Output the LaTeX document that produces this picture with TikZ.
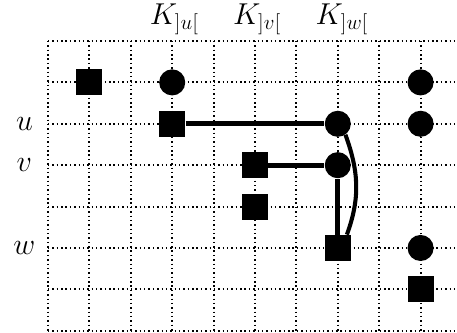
\documentclass[tikz,border=0pt]{standalone}
\usetikzlibrary{arrows}
\begin{document}
\begin{tikzpicture} [grid/.style={dash pattern=on 1pt off 2pt, line width=1.4pt},
 			      sq/.style={fill, minimum size=0.63cm, inner sep=0pt},
 			      dot/.style={circle, fill, minimum size=0.63cm, inner sep=0pt},
 			      link/.style={line width=3.5pt},
 			      lbl/.style={font=\fontsize{21}{25}\selectfont}]
    \useasboundingbox (-1.16,0.99) rectangle (9.88,-7.05);
    \clip (-1.16,0.99) rectangle (9.88,-7.05);
    \foreach \y in {0,...,7}
        \draw[grid] (0,-\y) -- (10,-\y);
    \foreach \x in {0,...,9}
        \draw[grid] (\x,0) -- (\x,-7);
    % row labels
    \node[lbl] (lu) at (-0.57,-2) {$u$};
    \node[lbl] (lv) at (-0.57,-3) {$v$};
    \node[lbl] (lw) at (-0.57,-5) {$w$};
    \node[lbl] (ku) at (3.05,0.52) {$K_{]u[}$};
    \node[lbl] (kv) at (5.05,0.52) {$K_{]v[}$};
    \node[lbl] (kw) at (7.1,0.52) {$K_{]w[}$};
    % markers
    \node[sq] (s11) at (1,-1) {};
    \node[dot] (c31) at (3,-1) {};
    \node[dot] (c91) at (9,-1) {};
    \node[sq] (s32) at (3,-2) {};
    \node[dot] (c72) at (7,-2) {};
    \node[dot] (c92) at (9,-2) {};
    \node[sq] (s53) at (5,-3) {};
    \node[dot] (c73) at (7,-3) {};
    \node[sq] (s54) at (5,-4) {};
    \node[sq] (s75) at (7,-5) {};
    \node[dot] (c95) at (9,-5) {};
    \node[sq] (s96) at (9,-6) {};
    % links
    \draw[link] (s32) -- (c72);
    \draw[link] (s53) -- (c73);
    \draw[link] (c73) -- (s75);
    \draw[link, line width=2.8pt] (c72.-55) to[out=-70, in=70] ([xshift=0.22cm]s75.north);
\end{tikzpicture}
\end{document}
